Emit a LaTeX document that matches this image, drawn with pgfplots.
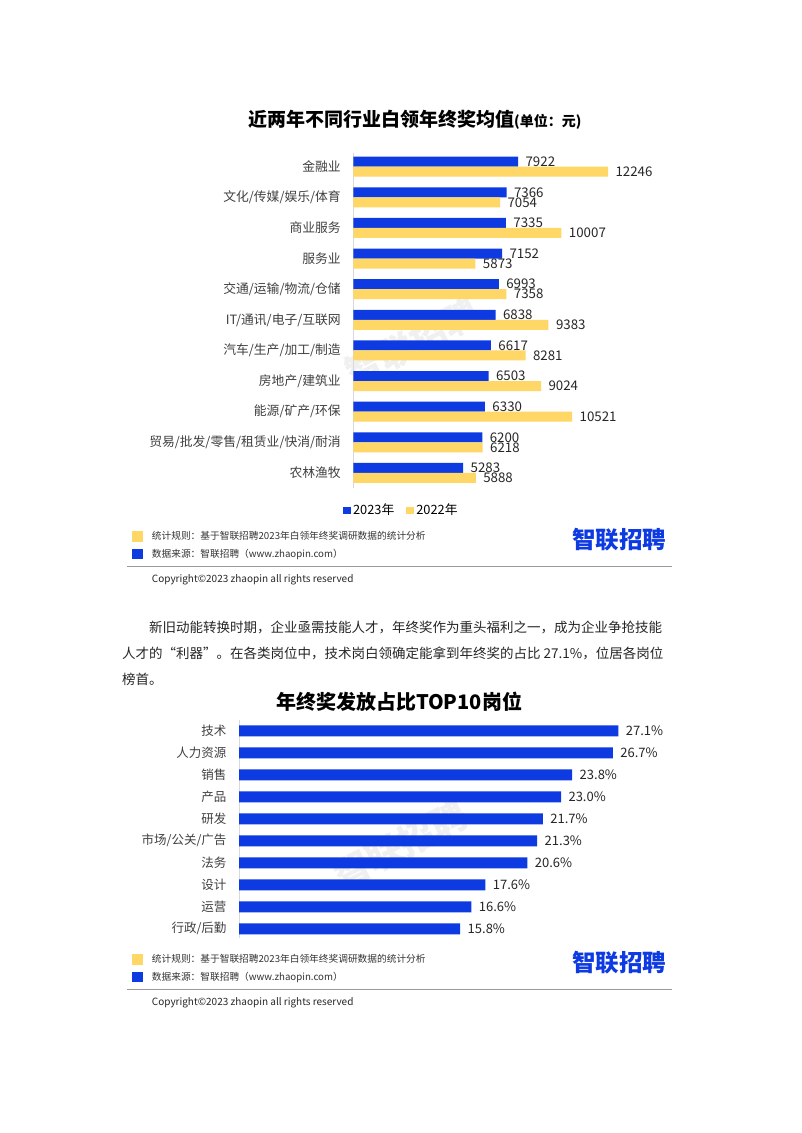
\documentclass[border=0pt]{standalone}
\usepackage{fontspec}
\setmainfont{Noto Sans CJK SC}
\usepackage{pgfplots}
\pgfplotsset{compat=1.18}
\definecolor{zpblue}{RGB}{14,58,226}
\definecolor{zpyellow}{RGB}{254,215,102}
\definecolor{txt}{RGB}{38,38,38}
\newcommand{\fs}[1]{\fontsize{#1}{#1}\selectfont}
\newcommand{\footerblock}{%
  \fill[zpyellow] (131.7pt,591pt) rectangle (143.3pt,602pt);
  \fill[zpblue] (131.7pt,574pt) rectangle (143.3pt,584pt);
  \node[anchor=west,inner sep=0,text=black!80] at (151.7pt,597.3pt) {\fs{9.7}统计规则：基于智联招聘2023年白领年终奖调研数据的统计分析};
  \node[anchor=west,inner sep=0,text=black!80] at (151.7pt,578.7pt) {\fs{9.7}数据来源：智联招聘（www.zhaopin.com）};
  \draw[black!40,line width=1.2pt] (127pt,566.3pt) -- (672pt,566.3pt);
  \node[anchor=west,inner sep=0,text=black!85] at (151.7pt,553.7pt) {\fs{10}Copyright©2023 zhaopin all rights reserved};
  \node[inner sep=0,text=zpblue] at (619pt,593pt) {\fs{23.5}\bfseries 智联招聘};
}
\begin{document}
\begin{tikzpicture}
\fill[white] (0,0) rectangle (802pt,1133pt);
\useasboundingbox (0,0) rectangle (802pt,1133pt);

% watermarks
\node[rotate=27,text=black!6,inner sep=0] at (412pt,790pt) {\fs{36}\bfseries 智联招聘};
\node[rotate=27,text=black!6,inner sep=0] at (400pt,288pt) {\fs{36}\bfseries 智联招聘};

% title 1
\node[anchor=west,inner sep=0,text=black] at (248pt,1013pt) {\fs{19}\bfseries 近两年不同行业白领年终奖均值{\fs{14}(单位：元)}};

\begin{axis}[
  at={(353.3pt,980pt)}, anchor=north west,
  scale only axis, width=291.2pt, height=335pt,
  xmin=0, xmax=14000, ymin=-0.49, ymax=10.447,
  xbar, bar width=10pt,
  axis x line=none, axis y line*=left,
  y axis line style={draw=black!15, line width=0.8pt, -},
  ytick={0,...,10},
  yticklabels={农林渔牧,贸易/批发/零售/租赁业/快消/耐消,能源/矿产/环保,房地产/建筑业,汽车/生产/加工/制造,IT/通讯/电子/互联网,交通/运输/物流/仓储,服务业,商业服务,文化/传媒/娱乐/体育,金融业},
  major tick length=0,
  yticklabel style={font=\fs{12.8}, text=black!75, xshift=-9pt},
  nodes near coords={\pgfmathprintnumber[fixed,precision=0,1000 sep={},assume math mode=true]{\pgfplotspointmeta}},
  every node near coord/.append style={font=\fs{13.3}, text=txt, anchor=west, xshift=4pt},
  legend style={at={(0.165,-0.066)}, anchor=center, draw=none, fill=none, legend columns=2, font=\fs{12.8},
    /tikz/every even column/.append style={column sep=10pt}},
  legend image code/.code={\fill[#1] (0pt,-3.5pt) rectangle (8pt,3.5pt);},
]
\addplot[fill=zpblue, draw=none, bar shift=5pt] coordinates {
(5283,0) (6200,1) (6330,2) (6503,3) (6617,4) (6838,5) (6993,6) (7152,7) (7335,8) (7366,9) (7922,10)};
\addplot[fill=zpyellow, draw=none, bar shift=-5pt] coordinates {
(5888,0) (6218,1) (10521,2) (9024,3) (8281,4) (9383,5) (7358,6) (5873,7) (10007,8) (7054,9) (12246,10)};
\legend{2023年,2022年}
\end{axis}

\footerblock

% paragraph
\node[anchor=west,inner sep=0,text=black!85] at (149pt,506pt) {\fs{13.5}新旧动能转换时期，企业亟需技能人才，年终奖作为重头福利之一，成为企业争抢技能};
\node[anchor=west,inner sep=0,text=black!85] at (122pt,480pt) {\fs{13.5}人才的“利器”。在各类岗位中，技术岗白领确定能拿到年终奖的占比 27.1\%，位居各岗位};
\node[anchor=west,inner sep=0,text=black!85] at (122pt,454pt) {\fs{13.5}榜首。};

% title 2
\node[inner sep=0,text=black] at (399pt,431pt) {\fs{20}\bfseries 年终奖发放占比TOP10岗位};

\begin{axis}[
  at={(239pt,413pt)}, anchor=north west,
  scale only axis, width=448pt, height=218pt,
  xmin=0, xmax=32, ymin=-0.42, ymax=9.49,
  xbar, bar width=11pt,
  axis x line=none, axis y line*=left,
  y axis line style={draw=black!15, line width=0.8pt, -},
  ytick={0,...,9},
  yticklabels={行政/后勤,运营,设计,法务,市场/公关/广告,研发,产品,销售,人力资源,技术},
  major tick length=0,
  yticklabel style={font=\fs{12.5}, text=black!75, xshift=-9pt},
  nodes near coords={\pgfmathprintnumber[fixed,fixed zerofill,precision=1,assume math mode=true]{\pgfplotspointmeta}\%},
  every node near coord/.append style={font=\fs{13}, text=txt, anchor=west, xshift=4pt},
]
\addplot[fill=zpblue, draw=none] coordinates {
(15.8,0) (16.6,1) (17.6,2) (20.6,3) (21.3,4) (21.7,5) (23.0,6) (23.8,7) (26.7,8) (27.1,9)};
\end{axis}

\begin{scope}[yshift=-423pt]
\footerblock
\end{scope}
\end{tikzpicture}
\end{document}
